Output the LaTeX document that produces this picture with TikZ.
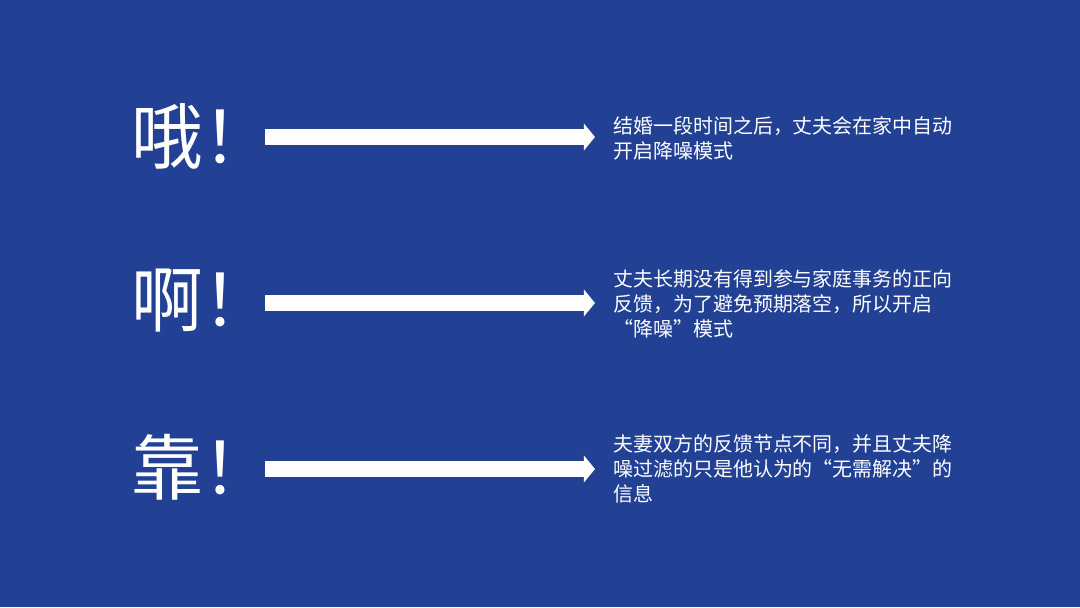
\documentclass[tikz,border=0pt]{standalone}
\usepackage{fontspec}
\usepackage{xcolor}
\usetikzlibrary{arrows.meta, positioning}
\newfontfamily\cjk[CharacterWidth=Full]{Noto Sans CJK SC}
\definecolor{bgblue}{RGB}{34,65,148}

\begin{document}
\begin{tikzpicture}[x=0.025cm, y=-0.025cm,
    word/.style={anchor=west, inner sep=0pt, text=white, font=\cjk\fontsize{51pt}{51pt}\selectfont},
    desc/.style={anchor=west, inner sep=0pt, align=left, text=white, font=\cjk\fontsize{14.2pt}{17.8pt}\selectfont},
    fatarrow/.style={-{Triangle[length=8pt, width=19pt]}, line width=12pt, white, shorten >=12.8pt}
]
\fill[bgblue] (0,0) rectangle (1080,607);

\node[word] (w1) at (131,136) {哦！};
\node[word] (w2) at (131,300) {啊！};
\node[word] (w3) at (131,467) {靠！};

\node[desc] (d1) at (613,138) {结婚一段时间之后，丈夫会在家中自动\\开启降噪模式};
\node[desc] (d2) at (613,304) {丈夫长期没有得到参与家庭事务的正向\\反馈，为了避免预期落空，所以开启\\“降噪”模式};
\node[desc] (d3) at (613,469) {夫妻双方的反馈节点不同，并且丈夫降\\噪过滤的只是他认为的“无需解决”的\\信息};

\coordinate (t1) at (265,137);
\coordinate (t2) at (265,303);
\coordinate (t3) at (265,469);

\draw[fatarrow] (t1) -- (t1 -| d1.west);
\draw[fatarrow] (t2) -- (t2 -| d2.west);
\draw[fatarrow] (t3) -- (t3 -| d3.west);
\end{tikzpicture}
\end{document}
